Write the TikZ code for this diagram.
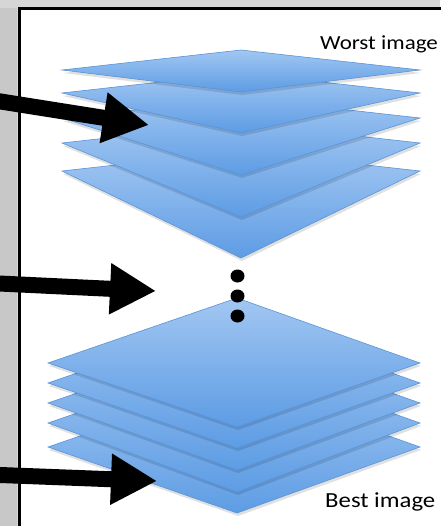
\documentclass[tikz,border=0pt]{standalone}
\usepackage{fontspec}
\setmainfont{Carlito}
\usetikzlibrary{arrows.meta}
\definecolor{bggray}{HTML}{D6D6D6}
\definecolor{stripgray}{HTML}{C8C8C8}
\definecolor{edgeblue}{HTML}{5B93D6}
\definecolor{lightblue}{HTML}{A2C7F2}
\definecolor{midblue}{HTML}{5D9CE4}
\tikzset{
  layer/.style={draw=edgeblue, line width=0.6pt, top color=lightblue, bottom color=midblue},
  layershadow/.style={fill=black, opacity=0.12},
  bigarrow/.style={line width=16pt, -{Triangle[length=46pt,width=48pt]}},
  label/.style={xscale=1.15, inner sep=0pt},
}
\newcommand\mylayer[5]{% left x, side y, center x, top y, bottom y
  \path[layershadow] (#1+1,#2+3) -- (#3+1,#4+3) -- (421,#2+3) -- (#3+1,#5+3) -- cycle;
  \path[layer] (#1,#2) -- (#3,#4) -- (420,#2) -- (#3,#5) -- cycle;
}
\begin{document}
\begin{tikzpicture}[x=1pt,y=-1pt]
\useasboundingbox (0,0) rectangle (440,526);
\fill[bggray] (0,0) rectangle (440,526);
\fill[stripgray] (0,8) rectangle (17,526);
\draw[black, line width=3pt, fill=white] (19,8.5) rectangle (470,560);
% top stack (worst)
\mylayer{62}{171}{241}{151}{258}
\mylayer{62}{143}{241}{123}{217}
\mylayer{62}{118}{241}{98}{175}
\mylayer{62}{93}{241}{73}{133}
\mylayer{62}{70}{241}{50}{92}
% bottom stack (best)
\mylayer{48}{447}{237}{382}{513}
\mylayer{48}{423}{237}{358}{492}
\mylayer{48}{403}{237}{338}{470}
\mylayer{48}{383}{237}{318}{448}
\mylayer{48}{363}{237}{298}{427}
% dots
\fill (237.5,276) ellipse (7 and 6.5);
\fill (237.5,296) ellipse (7 and 6.5);
\fill (237.5,316) ellipse (7 and 6.5);
% labels
\node[label, font=\fontsize{20}{24}\selectfont, anchor=base west] (worst) at (320,50) {Worst image};
\node[label, font=\fontsize{21.5}{25}\selectfont, anchor=base west] (best) at (325,507) {Best image};
% arrows
\coordinate (a1s) at (-5,100.6);
\coordinate (a1t) at (149,125);
\coordinate (a2s) at (-5,283.3);
\coordinate (a2t) at (156,291);
\coordinate (a3s) at (-5,474.8);
\coordinate (a3t) at (157,481);
\draw[bigarrow] (a1s) -- (a1t);
\draw[bigarrow] (a2s) -- (a2t);
\draw[bigarrow] (a3s) -- (a3t);
\end{tikzpicture}
\end{document}
